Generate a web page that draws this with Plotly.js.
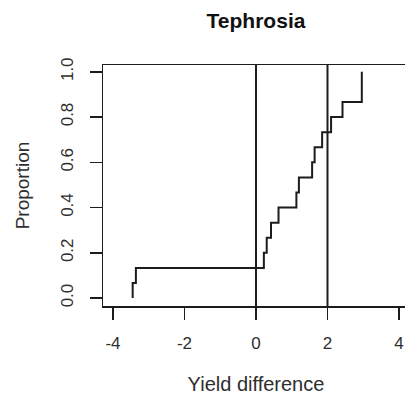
<!DOCTYPE html>
<html>
<head>
<meta charset="utf-8">
<script src="https://cdn.plot.ly/plotly-3.0.1.min.js"></script>
<style>
  html, body { margin: 0; padding: 0; background: #ffffff; overflow: hidden; }
  #chart { width: 420px; height: 395px; }
</style>
</head>
<body>
<div id="chart"></div>
<script>
// Sorted yield differences (one per site), Tephrosia
const yieldDiff = [-3.45, -3.36, 0.22, 0.30, 0.42, 0.63, 1.13, 1.20, 1.57, 1.64, 1.85, 2.10, 2.42, 2.96, 2.96];
// Cumulative proportion reached after each observation (leading 0 is the start of the curve)
const proportion = [0, 1/15, 2/15, 3/15, 4/15, 5/15, 6/15, 7/15, 8/15, 9/15, 10/15, 11/15, 12/15, 13/15, 14/15, 15/15];
// Reference lines
const refLines = [0, 2];
// Axis ticks
const xTicks = [-4, -2, 0, 2, 4];
const xTickText = ['-4', '-2', '0', '2', '4'];
const yTicks = [0, 0.2, 0.4, 0.6, 0.8, 1.0];
const yTickText = ['0.0', '0.2', '0.4', '0.6', '0.8', '1.0'];

const ink = '#1c1c1c';
const textInk = '#2e2e2e';
const fontFamily = 'Liberation Sans, Arial, sans-serif';

// step curve: start at 0 on the first observation, then rise one step per observation
const stepX = [yieldDiff[0]].concat(yieldDiff);

const trace = {
  type: 'scatter',
  mode: 'lines',
  x: stepX,
  y: proportion,
  line: { shape: 'hv', color: ink, width: 2 },
  hoverinfo: 'skip',
  showlegend: false
};

const shapes = refLines.map(v => ({
  type: 'line', xref: 'x', yref: 'paper',
  x0: v, x1: v, y0: 0, y1: 1,
  line: { color: ink, width: 2 }
}));

const layout = {
  width: 420,
  height: 395,
  margin: { l: 102.5, r: 10.5, t: 65, b: 89 },
  paper_bgcolor: '#ffffff',
  plot_bgcolor: '#ffffff',
  font: { family: fontFamily, color: textInk, size: 17 },
  title: {
    text: '<b>Tephrosia</b>',
    font: { family: fontFamily, size: 21, color: '#111111' },
    xref: 'paper', x: 0.5, xanchor: 'center',
    yref: 'container', y: 0.947, yanchor: 'middle'
  },
  xaxis: {
    range: [-4.28, 4.28],
    tickvals: xTicks,
    ticktext: xTickText,
    ticks: 'outside', ticklen: 12, tickwidth: 1.5, tickcolor: ink,
    showline: true, mirror: true, linecolor: ink, linewidth: 1.5,
    showgrid: false, zeroline: false,
    tickfont: { size: 17, color: textInk },
    ticklabelstandoff: 9,
    title: { text: 'Yield difference', font: { size: 20, color: textInk }, standoff: 27 }
  },
  yaxis: {
    range: [-0.035, 1.03],
    tickvals: yTicks,
    ticktext: yTickText,
    tickangle: -90,
    ticks: 'outside', ticklen: 12, tickwidth: 1.5, tickcolor: ink,
    showline: true, mirror: true, linecolor: ink, linewidth: 1.5,
    showgrid: false, zeroline: false,
    tickfont: { size: 17, color: textInk },
    ticklabelstandoff: 10,
    title: { text: 'Proportion', font: { size: 19, color: textInk }, standoff: 23 }
  },
  shapes: shapes
};

Plotly.newPlot('chart', [trace], layout, { staticPlot: true, displayModeBar: false });
</script>
</body>
</html>
